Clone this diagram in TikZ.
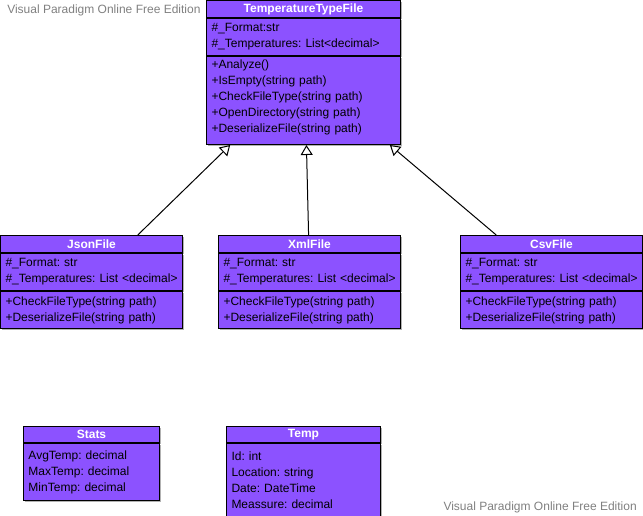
\documentclass[tikz,border=0pt]{standalone}
\usepackage{fontspec}
\setmainfont{Liberation Sans}
\usetikzlibrary{arrows.meta,calc,shadows}
\definecolor{umlpurple}{RGB}{140,82,255}
\definecolor{vpgray}{RGB}{128,128,128}
\frenchspacing

\begin{document}
\hyphenpenalty=10000
\begin{tikzpicture}[x=0.75pt, y=-0.75pt,
  classhead/.style={draw, line width=0.75pt, fill=umlpurple, text=white,
    font=\fontsize{9}{10}\selectfont\bfseries, minimum width=#1,
    minimum height=12.75pt, inner sep=0pt, anchor=north west,
    drop shadow={shadow xshift=0.9pt, shadow yshift=-0.9pt, fill=black!30, opacity=1}},
  compart/.style={draw, line width=0.75pt, fill=umlpurple,
    font=\fontsize{9}{12}\selectfont, text width=#1, align=left,
    inner xsep=3.75pt, inner ysep=0pt, anchor=north,
    drop shadow={shadow xshift=0.9pt, shadow yshift=-0.9pt, fill=black!30, opacity=1}},
  inherit/.style={line width=0.75pt, -{Triangle[open, width=9pt, length=7.5pt]}},
  watermark/.style={text=vpgray, font=\fontsize{9}{10}\selectfont, inner sep=0pt}]
  \useasboundingbox (0,0) rectangle (643,516);

%watermarks
  \node[watermark, anchor=west] (wmtop) at (7,10) {Visual Paradigm Online Free Edition};
  \node[watermark, anchor=east] (wmbot) at (637,507) {Visual Paradigm Online Free Edition};

%base class
  \node[classhead=145.5pt] (ttf) at (206,0) {TemperatureTypeFile};
  \node[compart=138pt, minimum height=27.75pt] (ttfattr) at (ttf.south)
    {\#\_Format:str\\\#\_Temperatures: List<decimal>};
  \node[compart=138pt, minimum height=66pt, text height=9pt, text depth=57pt] (ttfops) at (ttfattr.south)
    {+Analyze()\\+IsEmpty(string path)\\+CheckFileType(string path)\\+OpenDirectory(string path)\\+DeserializeFile(string path)};

%file classes
  \node[classhead=136.5pt] (json) at (0,235) {JsonFile};
  \node[compart=129pt, minimum height=27.75pt] (jsonattr) at (json.south)
    {\#\_Format: str\\\#\_Temperatures:~List~<decimal>};
  \node[compart=129pt, minimum height=27.75pt] (jsonops) at (jsonattr.south)
    {+CheckFileType(string path)\\+DeserializeFile(string path)};

  \node[classhead=136.5pt] (xml) at (218,235) {XmlFile};
  \node[compart=129pt, minimum height=27.75pt] (xmlattr) at (xml.south)
    {\#\_Format: str\\\#\_Temperatures:~List~<decimal>};
  \node[compart=129pt, minimum height=27.75pt] (xmlops) at (xmlattr.south)
    {+CheckFileType(string path)\\+DeserializeFile(string path)};

  \node[classhead=136.5pt] (csv) at (460,235) {CsvFile};
  \node[compart=129pt, minimum height=27.75pt] (csvattr) at (csv.south)
    {\#\_Format: str\\\#\_Temperatures:~List~<decimal>};
  \node[compart=129pt, minimum height=27.75pt] (csvops) at (csvattr.south)
    {+CheckFileType(string path)\\+DeserializeFile(string path)};

%data classes
  \node[classhead=102pt, minimum height=12pt] (stats) at (23,426) {Stats};
  \node[compart=94.5pt, minimum height=42.75pt] (statsattr) at (stats.south)
    {AvgTemp: decimal\\MaxTemp: decimal\\MinTemp: decimal};

  \node[classhead=115.5pt, minimum height=12pt] (temp) at (226,426) {Temp};
  \node[compart=108pt, minimum height=54.75pt] (tempattr) at (temp.south)
    {Id: int\\Location: string\\Date: DateTime\\Meassure: decimal};

%generalisation
  \draw[inherit] ($(json.north west)!.753!(json.north east)$) -- ($(ttfops.south west)!.124!(ttfops.south east)$);
  \draw[inherit] ($(xml.north west)!.495!(xml.north east)$) -- ($(ttfops.south west)!.515!(ttfops.south east)$);
  \draw[inherit] ($(csv.north west)!.198!(csv.north east)$) -- ($(ttfops.south west)!.943!(ttfops.south east)$);
\end{tikzpicture}
\end{document}
